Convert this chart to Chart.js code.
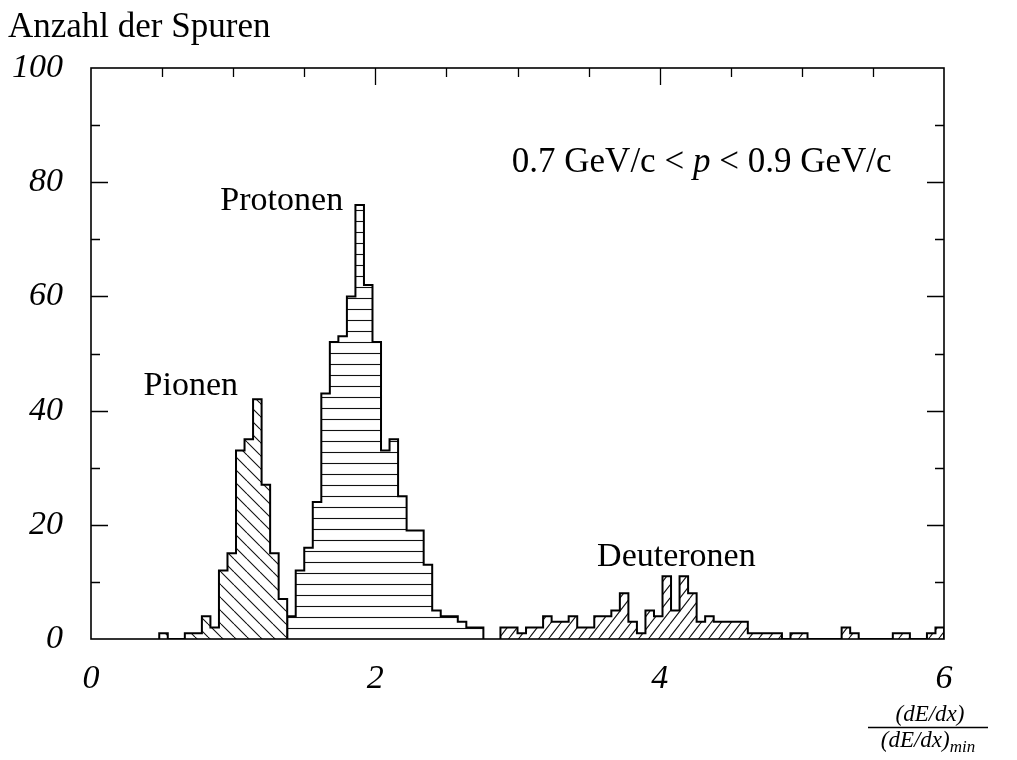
<!DOCTYPE html>
<html>
<head>
<meta charset="utf-8">
<script src="https://cdn.jsdelivr.net/npm/chart.js@4/dist/chart.umd.min.js"></script>
<style>
  html, body { margin: 0; padding: 0; background: #fff; }
  #wrap { width: 1017px; height: 760px; position: relative; }
</style>
</head>
<body>
<div id="wrap"><canvas id="spuren"></canvas></div>
<script>
// histogram binning of (dE/dx)/(dE/dx)min
const binWidth = 0.06;

// track counts per bin, each list starts at its first bin index
const pionFirstBin = 8;
const pionCounts = [1, 0, 0, 1, 1, 4, 2, 12, 15, 33, 35, 42, 27, 15, 7];

const protonFirstBin = 23;
const protonCounts = [4, 12, 16, 24, 43, 52, 53, 60, 76, 62, 52, 33, 35, 25, 19, 19, 13, 5, 4, 4, 3, 2, 2];

const deuteronFirstBin = 48;
const deuteronCounts = [2, 2, 1, 2, 2, 4, 3, 3, 4, 2, 2, 4, 4, 5, 8, 3, 1, 5, 4, 11, 5, 11, 8, 3, 4,
  3, 3, 3, 3, 1, 1, 1, 1, 0, 1, 1, 0, 0, 0, 0, 2, 1, 0, 0, 0, 0, 1, 1, 0, 0, 1, 2];

const xTicks = [0, 2, 4, 6];
const yTicks = [0, 20, 40, 60, 80, 100];

const serif = "'Liberation Serif', 'DejaVu Serif', serif";

// step outline points: left bin edges, closed down to zero at both ends
function histPoints(first, counts) {
  const pts = [{ x: first * binWidth, y: 0 }];
  counts.forEach((c, i) => pts.push({ x: (first + i) * binWidth, y: c }));
  pts.push({ x: (first + counts.length) * binWidth, y: 0 });
  return pts;
}

const canvas = document.getElementById('spuren');
const ctx = canvas.getContext('2d');

function hatch(w, h, draw) {
  const tile = document.createElement('canvas');
  tile.width = w;
  tile.height = h;
  const g = tile.getContext('2d');
  g.fillStyle = '#fff';
  g.fillRect(0, 0, w, h);
  g.strokeStyle = '#111';
  g.lineWidth = 1.1;
  g.beginPath();
  draw(g, w, h);
  g.stroke();
  return ctx.createPattern(tile, 'repeat');
}

// pions: "\" , protons: horizontal lines, deuterons: "/"
const pionFill = hatch(13, 13, (g, w, h) => {
  for (const o of [-w, 0, w]) { g.moveTo(o, 0); g.lineTo(o + w, h); }
});
const protonFill = hatch(4, 11, (g, w) => {
  g.moveTo(0, 1.5); g.lineTo(w, 1.5);
});
const deuteronFill = hatch(10, 13, (g, w, h) => {
  for (const o of [-w, 0, w]) { g.moveTo(o, h); g.lineTo(o + w, 0); }
});

function histDataset(first, counts, fill) {
  return {
    data: histPoints(first, counts),
    stepped: true,
    fill: 'origin',
    backgroundColor: fill,
    borderColor: '#000',
    borderWidth: 2,
    borderJoinStyle: 'miter',
    pointRadius: 0,
    tension: 0
  };
}

// frame with inward ticks on the left, right and top sides
const frame = {
  id: 'frame',
  afterDatasetsDraw(chart) {
    const { ctx: c, chartArea: a, scales: { x, y } } = chart;
    c.save();
    c.strokeStyle = '#000';
    c.lineWidth = 1.6;
    c.strokeRect(a.left, a.top, a.right - a.left, a.bottom - a.top);
    c.lineWidth = 1.3;
    c.beginPath();
    for (let v = 10; v < 100; v += 10) {
      const py = Math.round(y.getPixelForValue(v)) + 0.5;
      const len = v % 20 === 0 ? 17 : 9;
      c.moveTo(a.left, py); c.lineTo(a.left + len, py);
      c.moveTo(a.right, py); c.lineTo(a.right - len, py);
    }
    for (let v = 0.5; v < 6; v += 0.5) {
      const px = Math.round(x.getPixelForValue(v)) + 0.5;
      const len = v % 2 === 0 ? 17 : 9;
      c.moveTo(px, a.top); c.lineTo(px, a.top + len);
    }
    c.stroke();
    c.restore();
  }
};

// particle names, momentum window and axis titles
const labels = {
  id: 'labels',
  afterDraw(chart) {
    const { ctx: c, scales: { x, y } } = chart;
    c.save();
    c.fillStyle = '#000';
    c.textBaseline = 'alphabetic';
    c.textAlign = 'left';
    c.font = '34px ' + serif;
    c.fillText('Protonen', x.getPixelForValue(0.91), y.getPixelForValue(75.2));
    c.fillText('Pionen', x.getPixelForValue(0.37), y.getPixelForValue(42.8));
    c.fillText('Deuteronen', x.getPixelForValue(3.56), y.getPixelForValue(12.8));

    // 0.7 GeV/c < p < 0.9 GeV/c
    let px = x.getPixelForValue(2.96);
    const py = y.getPixelForValue(81.8);
    const parts = [['0.7 GeV/c < ', ''], ['p', 'italic '], [' < 0.9 GeV/c', '']];
    for (const [t, st] of parts) {
      c.font = st + '35px ' + serif;
      c.fillText(t, px, py);
      px += c.measureText(t).width;
    }

    c.font = '35px ' + serif;
    c.fillText('Anzahl der Spuren', 8, 37);

    // (dE/dx) / (dE/dx)_min
    c.font = 'italic 23px ' + serif;
    c.textAlign = 'center';
    c.fillText('(dE/dx)', 930, 721);
    c.lineWidth = 1.4;
    c.beginPath();
    c.moveTo(868, 727.5); c.lineTo(988, 727.5);
    c.stroke();
    const den = '(dE/dx)';
    const dw = c.measureText(den).width;
    c.font = 'italic 17px ' + serif;
    const sw = c.measureText('min').width;
    c.textAlign = 'left';
    const dx = 928 - (dw + sw) / 2;
    c.font = 'italic 23px ' + serif;
    c.fillText(den, dx, 747);
    c.font = 'italic 17px ' + serif;
    c.fillText('min', dx + dw, 752);
    c.restore();
  }
};

new Chart(ctx, {
  type: 'line',
  data: {
    datasets: [
      histDataset(pionFirstBin, pionCounts, pionFill),
      histDataset(protonFirstBin, protonCounts, protonFill),
      histDataset(deuteronFirstBin, deuteronCounts, deuteronFill)
    ]
  },
  options: {
    responsive: true,
    maintainAspectRatio: false,
    animation: false,
    layout: { padding: { left: 0, top: 68, right: 73, bottom: 0 } },
    plugins: { legend: { display: false }, tooltip: { enabled: false } },
    scales: {
      x: {
        type: 'linear',
        min: 0,
        max: 6,
        grid: { display: false, drawTicks: false },
        border: { display: false },
        afterFit(scale) { scale.height = 121; },
        afterBuildTicks(scale) { scale.ticks = xTicks.map(v => ({ value: v })); },
        ticks: {
          padding: 20,
          maxRotation: 0,
          autoSkip: false,
          color: '#000',
          font: { family: serif, size: 34, style: 'italic' }
        }
      },
      y: {
        type: 'linear',
        min: 0,
        max: 100,
        grid: { display: false, drawTicks: false },
        border: { display: false },
        afterFit(scale) { scale.width = 91; },
        afterBuildTicks(scale) { scale.ticks = yTicks.map(v => ({ value: v })); },
        ticks: {
          padding: 28,
          color: '#000',
          font: { family: serif, size: 34, style: 'italic' }
        }
      }
    }
  },
  plugins: [frame, labels]
});
</script>
</body>
</html>
